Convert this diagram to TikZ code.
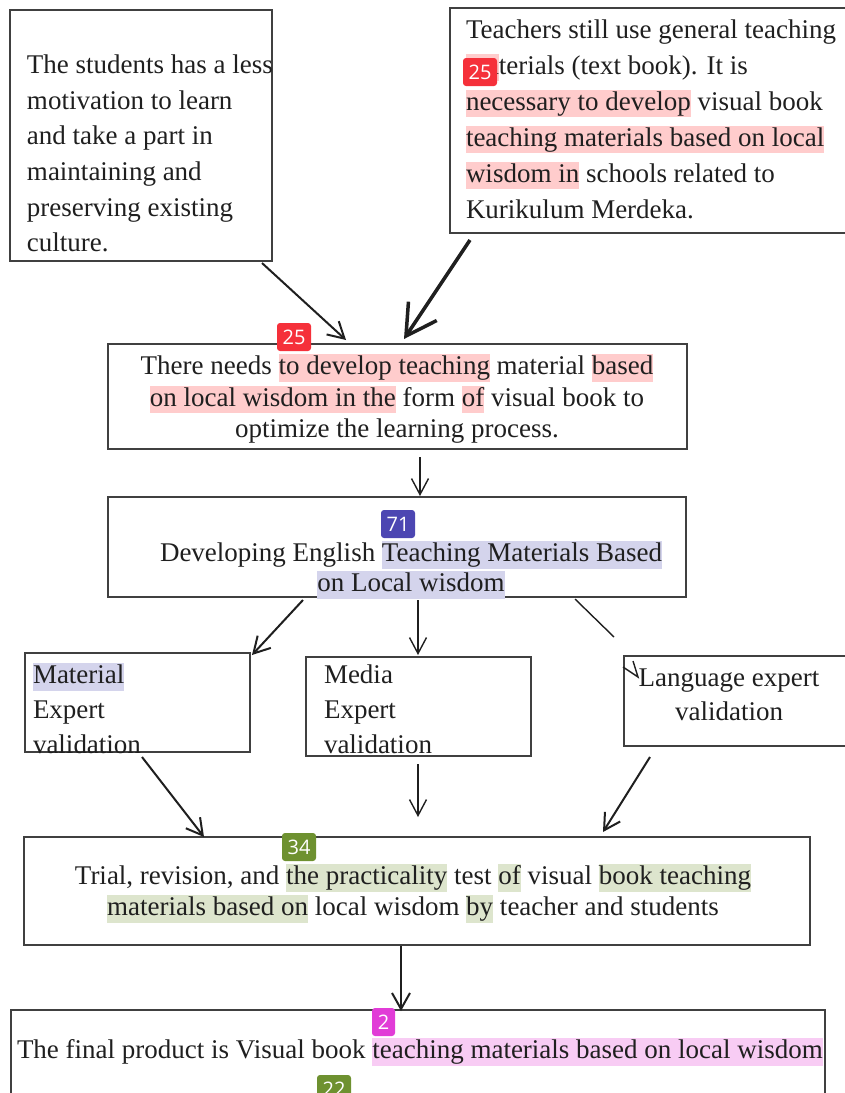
\documentclass[tikz,border=0pt]{standalone}
\usepackage{fontspec}
\setmainfont{Liberation Serif}
\newfontfamily\badgefont{Open Sans}
\usetikzlibrary{arrows.meta,calc}
\definecolor{hlred}{RGB}{255,204,204}
\definecolor{hlblue}{RGB}{212,212,236}
\definecolor{hlgreen}{RGB}{221,229,205}
\definecolor{hlpink}{RGB}{248,204,244}
\definecolor{bred}{RGB}{245,48,58}
\definecolor{bblue}{RGB}{76,70,178}
\definecolor{bgreen}{RGB}{110,145,48}
\definecolor{bpink}{RGB}{225,60,215}
\newcommand\lst{\rule[-0.27em]{0pt}{1.03em}}
\newcommand\hl[2]{{\setlength{\fboxsep}{0pt}\colorbox{#1}{\lst#2}}}
\tikzset{
  box/.style={draw=black!75, line width=1.3pt, rectangle, inner sep=0pt, outer sep=0pt, anchor=north west},
  txt/.style={inner sep=0pt, outer sep=0pt, text=black!88},
  arr/.style={-{Straight Barb[length=16pt,width=18pt]}, line width=2pt, draw=black!88},
  arrthin/.style={-{Straight Barb[length=16pt,width=17pt]}, line width=1.4pt, draw=black!88},
  plain/.style={line width=1.4pt, draw=black!88},
  badge/.style={rounded corners=3pt, inner sep=0pt, minimum height=28, text=white, font=\badgefont\fontsize{20}{20}\selectfont}
}
\begin{document}
\begin{tikzpicture}[x=1pt,y=-1pt]
\useasboundingbox (0,0) rectangle (844,1093);
% boxes
\node[box, minimum width=262, minimum height=251] (A) at (10,10) {};
\node[box, minimum width=400, minimum height=225] (B) at (450,8) {};
\node[box, minimum width=579, minimum height=105] (C) at (108,344) {};
\node[box, minimum width=578, minimum height=100] (D) at (108,497) {};
\node[box, minimum width=225, minimum height=99] (E) at (25,653) {};
\node[box, minimum width=225, minimum height=99] (F) at (306,657) {};
\node[box, minimum width=226, minimum height=90] (G) at (624,656) {};
\node[box, minimum width=786, minimum height=108] (H) at (24,837) {};
\node[box, minimum width=814, minimum height=100] (I) at (11,1010) {};
% texts
\node[txt, anchor=west, align=left, font=\fontsize{27}{35.6}\selectfont] (At) at (27,156)
 {\lst The students has a less\\\lst motivation to learn\\\lst and take a part in\\\lst maintaining and\\\lst preserving existing\\\lst culture.};
\node[txt, anchor=west, align=left, font=\fontsize{27}{36}\selectfont] (Bt) at (466,121.5)
 {\lst Teachers still use general teaching\\\lst\hl{hlred}{ma}terials (text book). It is\\\lst\hl{hlred}{necessary to develop} visual book\\\lst\hl{hlred}{teaching materials based on local}\\\lst\hl{hlred}{wisdom in} schools related to\\\lst Kurikulum Merdeka.};
\node[txt, anchor=center, align=center, font=\fontsize{27}{31.5}\selectfont] (Ct) at (397,399.5)
 {\lst There needs \hl{hlred}{to develop teaching} material \hl{hlred}{based}\\\lst\hl{hlred}{on local wisdom in the} form \hl{hlred}{of} visual book to\\\lst optimize the learning process.};
\node[txt, anchor=center, align=center, font=\fontsize{27}{30}\selectfont] (Dt) at (411,570)
 {\lst Developing English \hl{hlblue}{Teaching Materials Based}\\\lst\hl{hlblue}{on Local wisdom}};
\node[txt, anchor=west, align=left, font=\fontsize{27}{35}\selectfont] (Et) at (33,712)
 {\lst\hl{hlblue}{Material}\\\lst Expert\\\lst validation};
\node[txt, anchor=west, align=left, font=\fontsize{27}{35}\selectfont] (Ft) at (324,712)
 {\lst Media\\\lst Expert\\\lst validation};
\node[txt, anchor=center, align=center, font=\fontsize{27}{34}\selectfont] (Gt) at (729,697)
 {\lst Language expert\\\lst validation};
\node[txt, anchor=center, align=center, font=\fontsize{27}{31}\selectfont] (Ht) at (413,893.5)
 {\lst Trial, revision, and \hl{hlgreen}{the practicality} test \hl{hlgreen}{of} visual \hl{hlgreen}{book teaching}\\\lst\hl{hlgreen}{materials based on} local wisdom \hl{hlgreen}{by} teacher and students};
\node[txt, anchor=west, font=\fontsize{27}{31}\selectfont] (It) at (17,1052)
 {\lst The final product is Visual book \hl{hlpink}{teaching materials based on local wisdom}};
% connectors
\draw[arr] ($(A.south west)+(252,2)$) -- ($(C.north west)+(238,-4)$);
\draw[arr, line width=3.5pt, -{Straight Barb[length=30pt,width=34pt]}] ($(B.south west)+(20,7)$) -- ($(C.north west)+(296,-5)$);
\draw[arrthin] ($(C.south west)+(312,8)$) -- ($(D.north west)+(312,-1)$);
\draw[arr] ($(D.south west)+(195,3)$) -- ($(E.north east)+(2,2)$);
\draw[arrthin] ($(D.south west)+(310,3)$) -- ($(F.north west)+(112,-2)$);
\coordinate (Gend) at ($(G.north west)+(-10,-19)$);
\coordinate (Gtip) at ($(G.north west)+(14,21)$);
\coordinate (Garm1) at ($(G.north west)+(9,5)$);
\coordinate (Garm2) at ($(G.north west)+(-1,11)$);
\draw[plain] ($(D.south west)+(467,2)$) -- (Gend);
\draw[plain] (Garm1) -- (Gtip) -- (Garm2);
\draw[arr] ($(E.south west)+(117,5)$) -- ($(H.north west)+(180,0)$);
\draw[arrthin] ($(F.south west)+(112,8)$) -- ($(H.north west)+(394,-20)$);
\draw[arr] ($(G.south west)+(26,11)$) -- ($(H.north west)+(579,-5)$);
\draw[arr] ($(H.south west)+(377,1)$) -- ($(I.north west)+(390,1)$);
% badges
\node[badge, fill=bred, minimum width=34] (b1) at (480,72) {25};
\node[badge, fill=bred, minimum width=34] (b2) at (294,337) {25};
\node[badge, fill=bblue, minimum width=34] (b3) at (398,524) {71};
\node[badge, fill=bgreen, minimum width=34] (b4) at (299,847) {34};
\node[badge, fill=bpink, minimum width=23] (b5) at (383.5,1022) {2};
\node[badge, fill=bgreen, minimum width=34] (b6) at (334,1089) {22};
\end{tikzpicture}
\end{document}
